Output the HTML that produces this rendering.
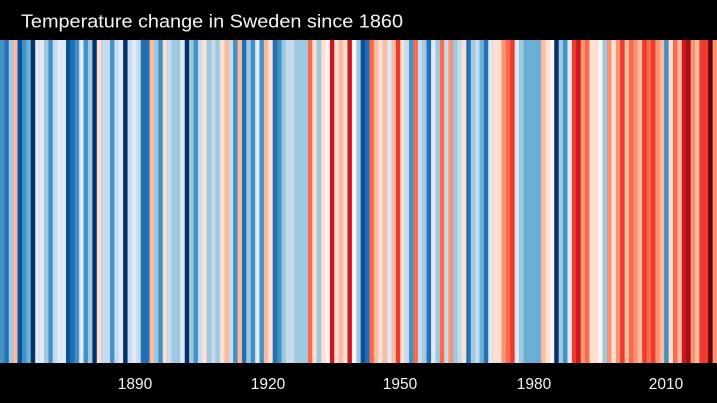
<!DOCTYPE html>
<html>
<head>
<meta charset="utf-8">
<style>
  html, body { margin: 0; padding: 0; background: #000; }
  body { width: 717px; height: 403px; overflow: hidden; }
  svg { display: block; }
</style>
</head>
<body>
<svg width="717" height="403" viewBox="0 0 717 403" xmlns="http://www.w3.org/2000/svg">
  <rect x="0" y="0" width="717" height="403" fill="#000"/>
  <text x="21" y="27.3" font-family="Liberation Sans, Arial, sans-serif" font-size="18.8" fill="#f4f4f4" textLength="382" lengthAdjust="spacingAndGlyphs">Temperature change in Sweden since 1860</text>
  <g transform="translate(0,40) scale(4.398773,1)">
    <rect x="0" width="1.05" height="323" fill="#4292c6"/>
    <rect x="1" width="1.05" height="323" fill="#2171b5"/>
    <rect x="2" width="1.05" height="323" fill="#9ecae1"/>
    <rect x="3" width="1.05" height="323" fill="#fcbba1"/>
    <rect x="4" width="1.05" height="323" fill="#08519c"/>
    <rect x="5" width="1.05" height="323" fill="#4292c6"/>
    <rect x="6" width="1.05" height="323" fill="#6baed6"/>
    <rect x="7" width="1.05" height="323" fill="#08306b"/>
    <rect x="8" width="1.05" height="323" fill="#deebf7"/>
    <rect x="9" width="1.05" height="323" fill="#deebf7"/>
    <rect x="10" width="1.05" height="323" fill="#9ecae1"/>
    <rect x="11" width="1.05" height="323" fill="#4292c6"/>
    <rect x="12" width="1.05" height="323" fill="#c6dbef"/>
    <rect x="13" width="1.05" height="323" fill="#deebf7"/>
    <rect x="14" width="1.05" height="323" fill="#deebf7"/>
    <rect x="15" width="1.05" height="323" fill="#08519c"/>
    <rect x="16" width="1.05" height="323" fill="#2171b5"/>
    <rect x="17" width="1.05" height="323" fill="#4292c6"/>
    <rect x="18" width="1.05" height="323" fill="#deebf7"/>
    <rect x="19" width="1.05" height="323" fill="#4292c6"/>
    <rect x="20" width="1.05" height="323" fill="#9ecae1"/>
    <rect x="21" width="1.05" height="323" fill="#08306b"/>
    <rect x="22" width="1.05" height="323" fill="#fee0d2"/>
    <rect x="23" width="1.05" height="323" fill="#c6dbef"/>
    <rect x="24" width="1.05" height="323" fill="#c6dbef"/>
    <rect x="25" width="1.05" height="323" fill="#4292c6"/>
    <rect x="26" width="1.05" height="323" fill="#c6dbef"/>
    <rect x="27" width="1.05" height="323" fill="#deebf7"/>
    <rect x="28" width="1.05" height="323" fill="#08306b"/>
    <rect x="29" width="1.05" height="323" fill="#c6dbef"/>
    <rect x="30" width="1.05" height="323" fill="#deebf7"/>
    <rect x="31" width="1.05" height="323" fill="#c6dbef"/>
    <rect x="32" width="1.05" height="323" fill="#2171b5"/>
    <rect x="33" width="1.05" height="323" fill="#2171b5"/>
    <rect x="34" width="1.05" height="323" fill="#fcbba1"/>
    <rect x="35" width="1.05" height="323" fill="#9ecae1"/>
    <rect x="36" width="1.05" height="323" fill="#4292c6"/>
    <rect x="37" width="1.05" height="323" fill="#fee0d2"/>
    <rect x="38" width="1.05" height="323" fill="#c6dbef"/>
    <rect x="39" width="1.05" height="323" fill="#9ecae1"/>
    <rect x="40" width="1.05" height="323" fill="#9ecae1"/>
    <rect x="41" width="1.05" height="323" fill="#deebf7"/>
    <rect x="42" width="1.05" height="323" fill="#08306b"/>
    <rect x="43" width="1.05" height="323" fill="#9ecae1"/>
    <rect x="44" width="1.05" height="323" fill="#4292c6"/>
    <rect x="45" width="1.05" height="323" fill="#c6dbef"/>
    <rect x="46" width="1.05" height="323" fill="#fee0d2"/>
    <rect x="47" width="1.05" height="323" fill="#9ecae1"/>
    <rect x="48" width="1.05" height="323" fill="#c6dbef"/>
    <rect x="49" width="1.05" height="323" fill="#9ecae1"/>
    <rect x="50" width="1.05" height="323" fill="#fee0d2"/>
    <rect x="51" width="1.05" height="323" fill="#fcbba1"/>
    <rect x="52" width="1.05" height="323" fill="#c6dbef"/>
    <rect x="53" width="1.05" height="323" fill="#4292c6"/>
    <rect x="54" width="1.05" height="323" fill="#fcbba1"/>
    <rect x="55" width="1.05" height="323" fill="#2171b5"/>
    <rect x="56" width="1.05" height="323" fill="#9ecae1"/>
    <rect x="57" width="1.05" height="323" fill="#4292c6"/>
    <rect x="58" width="1.05" height="323" fill="#deebf7"/>
    <rect x="59" width="1.05" height="323" fill="#4292c6"/>
    <rect x="60" width="1.05" height="323" fill="#fcbba1"/>
    <rect x="61" width="1.05" height="323" fill="#fee0d2"/>
    <rect x="62" width="1.05" height="323" fill="#2171b5"/>
    <rect x="63" width="1.05" height="323" fill="#4292c6"/>
    <rect x="64" width="1.05" height="323" fill="#9ecae1"/>
    <rect x="65" width="1.05" height="323" fill="#c6dbef"/>
    <rect x="66" width="1.05" height="323" fill="#c6dbef"/>
    <rect x="67" width="1.05" height="323" fill="#9ecae1"/>
    <rect x="68" width="1.05" height="323" fill="#9ecae1"/>
    <rect x="69" width="1.05" height="323" fill="#9ecae1"/>
    <rect x="70" width="1.05" height="323" fill="#fb6a4a"/>
    <rect x="71" width="1.05" height="323" fill="#fee0d2"/>
    <rect x="72" width="1.05" height="323" fill="#9ecae1"/>
    <rect x="73" width="1.05" height="323" fill="#fee0d2"/>
    <rect x="74" width="1.05" height="323" fill="#fff5f0"/>
    <rect x="75" width="1.05" height="323" fill="#cb181d"/>
    <rect x="76" width="1.05" height="323" fill="#fee0d2"/>
    <rect x="77" width="1.05" height="323" fill="#fcbba1"/>
    <rect x="78" width="1.05" height="323" fill="#fee0d2"/>
    <rect x="79" width="1.05" height="323" fill="#cb181d"/>
    <rect x="80" width="1.05" height="323" fill="#fff5f0"/>
    <rect x="81" width="1.05" height="323" fill="#9ecae1"/>
    <rect x="82" width="1.05" height="323" fill="#08519c"/>
    <rect x="83" width="1.05" height="323" fill="#2171b5"/>
    <rect x="84" width="1.05" height="323" fill="#fb6a4a"/>
    <rect x="85" width="1.05" height="323" fill="#fcbba1"/>
    <rect x="86" width="1.05" height="323" fill="#fee0d2"/>
    <rect x="87" width="1.05" height="323" fill="#fcbba1"/>
    <rect x="88" width="1.05" height="323" fill="#deebf7"/>
    <rect x="89" width="1.05" height="323" fill="#fcbba1"/>
    <rect x="90" width="1.05" height="323" fill="#ef3b2c"/>
    <rect x="91" width="1.05" height="323" fill="#fee0d2"/>
    <rect x="92" width="1.05" height="323" fill="#c6dbef"/>
    <rect x="93" width="1.05" height="323" fill="#4292c6"/>
    <rect x="94" width="1.05" height="323" fill="#fb6a4a"/>
    <rect x="95" width="1.05" height="323" fill="#c6dbef"/>
    <rect x="96" width="1.05" height="323" fill="#9ecae1"/>
    <rect x="97" width="1.05" height="323" fill="#2171b5"/>
    <rect x="98" width="1.05" height="323" fill="#deebf7"/>
    <rect x="99" width="1.05" height="323" fill="#9ecae1"/>
    <rect x="100" width="1.05" height="323" fill="#fb6a4a"/>
    <rect x="101" width="1.05" height="323" fill="#c6dbef"/>
    <rect x="102" width="1.05" height="323" fill="#fc9272"/>
    <rect x="103" width="1.05" height="323" fill="#9ecae1"/>
    <rect x="104" width="1.05" height="323" fill="#c6dbef"/>
    <rect x="105" width="1.05" height="323" fill="#fee0d2"/>
    <rect x="106" width="1.05" height="323" fill="#2171b5"/>
    <rect x="107" width="1.05" height="323" fill="#9ecae1"/>
    <rect x="108" width="1.05" height="323" fill="#c6dbef"/>
    <rect x="109" width="1.05" height="323" fill="#6baed6"/>
    <rect x="110" width="1.05" height="323" fill="#2171b5"/>
    <rect x="111" width="1.05" height="323" fill="#deebf7"/>
    <rect x="112" width="1.05" height="323" fill="#fee0d2"/>
    <rect x="113" width="1.05" height="323" fill="#fee0d2"/>
    <rect x="114" width="1.05" height="323" fill="#fc9272"/>
    <rect x="115" width="1.05" height="323" fill="#fb6a4a"/>
    <rect x="116" width="1.05" height="323" fill="#ef3b2c"/>
    <rect x="117" width="1.05" height="323" fill="#deebf7"/>
    <rect x="118" width="1.05" height="323" fill="#9ecae1"/>
    <rect x="119" width="1.05" height="323" fill="#6baed6"/>
    <rect x="120" width="1.05" height="323" fill="#6baed6"/>
    <rect x="121" width="1.05" height="323" fill="#6baed6"/>
    <rect x="122" width="1.05" height="323" fill="#6baed6"/>
    <rect x="123" width="1.05" height="323" fill="#fcbba1"/>
    <rect x="124" width="1.05" height="323" fill="#fee0d2"/>
    <rect x="125" width="1.05" height="323" fill="#fff5f0"/>
    <rect x="126" width="1.05" height="323" fill="#08306b"/>
    <rect x="127" width="1.05" height="323" fill="#9ecae1"/>
    <rect x="128" width="1.05" height="323" fill="#4292c6"/>
    <rect x="129" width="1.05" height="323" fill="#deebf7"/>
    <rect x="130" width="1.05" height="323" fill="#ef3b2c"/>
    <rect x="131" width="1.05" height="323" fill="#cb181d"/>
    <rect x="132" width="1.05" height="323" fill="#fc9272"/>
    <rect x="133" width="1.05" height="323" fill="#fb6a4a"/>
    <rect x="134" width="1.05" height="323" fill="#fee0d2"/>
    <rect x="135" width="1.05" height="323" fill="#fee0d2"/>
    <rect x="136" width="1.05" height="323" fill="#fff5f0"/>
    <rect x="137" width="1.05" height="323" fill="#9ecae1"/>
    <rect x="138" width="1.05" height="323" fill="#fc9272"/>
    <rect x="139" width="1.05" height="323" fill="#fee0d2"/>
    <rect x="140" width="1.05" height="323" fill="#fc9272"/>
    <rect x="141" width="1.05" height="323" fill="#ef3b2c"/>
    <rect x="142" width="1.05" height="323" fill="#fcbba1"/>
    <rect x="143" width="1.05" height="323" fill="#fb6a4a"/>
    <rect x="144" width="1.05" height="323" fill="#fc9272"/>
    <rect x="145" width="1.05" height="323" fill="#fcbba1"/>
    <rect x="146" width="1.05" height="323" fill="#ef3b2c"/>
    <rect x="147" width="1.05" height="323" fill="#fb6a4a"/>
    <rect x="148" width="1.05" height="323" fill="#ef3b2c"/>
    <rect x="149" width="1.05" height="323" fill="#fc9272"/>
    <rect x="150" width="1.05" height="323" fill="#fcbba1"/>
    <rect x="151" width="1.05" height="323" fill="#4292c6"/>
    <rect x="152" width="1.05" height="323" fill="#fee0d2"/>
    <rect x="153" width="1.05" height="323" fill="#fb6a4a"/>
    <rect x="154" width="1.05" height="323" fill="#fcbba1"/>
    <rect x="155" width="1.05" height="323" fill="#cb181d"/>
    <rect x="156" width="1.05" height="323" fill="#a50f15"/>
    <rect x="157" width="1.05" height="323" fill="#fc9272"/>
    <rect x="158" width="1.05" height="323" fill="#fcbba1"/>
    <rect x="159" width="1.05" height="323" fill="#ef3b2c"/>
    <rect x="160" width="1.05" height="323" fill="#ef3b2c"/>
    <rect x="161" width="1.05" height="323" fill="#67000d"/>
    <rect x="162" width="1.05" height="323" fill="#fc9272"/>
  </g>
  <g font-family="Liberation Sans, Arial, sans-serif" font-size="15.5" fill="#f4f4f4" text-anchor="middle">
    <text x="135" y="389">1890</text>
    <text x="268" y="389">1920</text>
    <text x="400" y="389">1950</text>
    <text x="534" y="389">1980</text>
    <text x="666" y="389">2010</text>
  </g>
</svg>
</body>
</html>
